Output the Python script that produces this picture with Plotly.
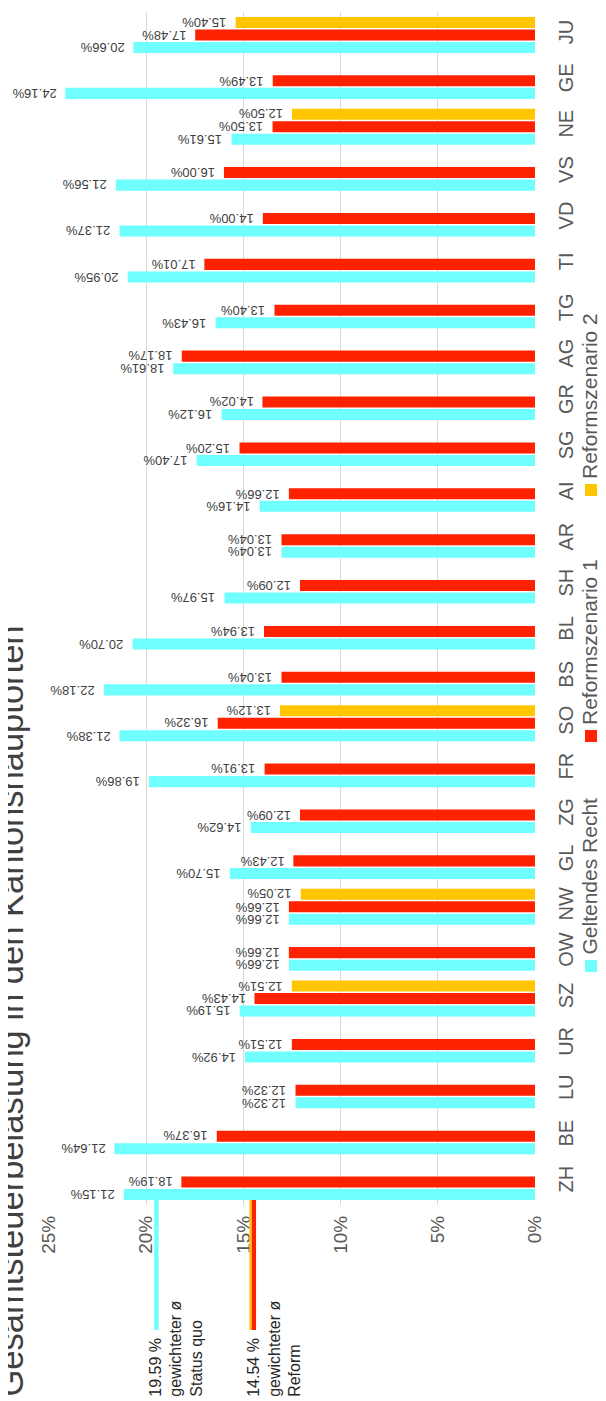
import plotly.graph_objects as go

cantons = ["ZH", "BE", "LU", "UR", "SZ", "OW", "NW", "GL", "ZG", "FR", "SO", "BS", "BL",
           "SH", "AR", "AI", "SG", "GR", "AG", "TG", "TI", "VD", "VS", "NE", "GE", "JU"]
geltendes_recht = [21.15, 21.64, 12.32, 14.92, 15.19, 12.66, 12.66, 15.70, 14.62, 19.86, 21.38, 22.18, 20.70,
                   15.97, 13.04, 14.16, 17.40, 16.12, 18.61, 16.43, 20.95, 21.37, 21.56, 15.61, 24.16, 20.66]
reform_1 = [18.19, 16.37, 12.32, 12.51, 14.43, 12.66, 12.66, 12.43, 12.09, 13.91, 16.32, 13.04, 13.94,
            12.09, 13.04, 12.66, 15.20, 14.02, 18.17, 13.40, 17.01, 14.00, 16.00, 13.50, 13.49, 17.48]
reform_2 = [None, None, None, None, 12.51, None, 12.05, None, None, None, 13.12, None, None,
            None, None, None, None, None, None, None, None, None, None, 12.50, None, 15.40]
avg_status_quo = 19.59
avg_reform = 14.54
x_ticks = [0, 5, 10, 15, 20, 25]
series_names = ["Geltendes Recht", "Reformszenario 1", "Reformszenario 2"]
title_text = "Gesamtsteuerbelastung in den Kantonshauptorten"

CYAN, RED, YEL = "#6FFFFF", "#FF2200", "#FFC600"
FONT = "Liberation Sans, Arial, sans-serif"
W, H = 606, 1401
OFF = 8  # page body margin
# plot area in page pixels: x 49..535, y 12..1205
ML = 49 - OFF
MR = W - (535 - OFF)
MT = 12 - OFF
MB = H - (1205 - OFF)
PW, PH = W - ML - MR, H - MT - MB
BARGAP, GROUPGAP = 0.18, 0.12


def px_x(px):
    return (px - OFF - ML) / PW


def px_y(py):
    return (H - MB - (py - OFF)) / PH


idx = list(range(len(cantons)))
fig = go.Figure()
series = [geltendes_recht, reform_1, reform_2]
colors = [CYAN, RED, YEL]
for name, vals, col in zip(series_names, series, colors):
    fig.add_trace(go.Bar(y=idx, x=vals, orientation="h", name=name,
                         marker=dict(color=col, line=dict(width=0)), showlegend=False))

slot = (1 - BARGAP) / 3
annotations = []
for k, vals in enumerate(series):
    off = (k - 1) * slot
    for i, v in enumerate(vals):
        if v is None:
            continue
        annotations.append(dict(x=v, y=i + off, xref="x", yref="y", text=f"{v:.2f}%",
                                showarrow=False, textangle=180, xanchor="right", yanchor="middle",
                                xshift=-7, font=dict(family=FONT, size=13, color="#404040")))

# title
annotations.append(dict(x=px_x(10), y=px_y(1399), xref="paper", yref="paper", text=title_text,
                        showarrow=False, textangle=-90, xanchor="center", yanchor="bottom",
                        font=dict(family=FONT, size=34.5, color="#404040")))

# average annotations
for val, lbl in [(avg_status_quo, "Status quo"), (avg_reform, "Reform")]:
    annotations.append(dict(x=val, y=px_y(1399), xref="x", yref="paper",
                            text=f"{val:.2f} %<br>gewichteter ø<br>{lbl}", align="left",
                            showarrow=False, textangle=-90, xanchor="left", yanchor="bottom",
                            xshift=-10, font=dict(family=FONT, size=16, color="#262626")))

# legend (rotated)
leg_bottoms = [972, 742, 496]
shapes = []
for name, col, yb in zip(series_names, colors, leg_bottoms):
    shapes.append(dict(type="rect", xref="paper", yref="paper", x0=px_x(585), x1=px_x(597),
                       y0=px_y(yb), y1=px_y(yb - 12), fillcolor=col, line=dict(width=0)))
    annotations.append(dict(x=px_x(589), y=px_y(yb - 15), xref="paper", yref="paper", text=name,
                            showarrow=False, textangle=-90, xanchor="center", yanchor="bottom",
                            font=dict(family=FONT, size=21, color="#595959")))

# average lines
shapes.append(dict(type="rect", xref="x", yref="paper", xsizemode="pixel", xanchor=avg_status_quo,
                   x0=0, x1=4.5, y0=px_y(1200), y1=px_y(1330), fillcolor=CYAN, line=dict(width=0)))
shapes.append(dict(type="rect", xref="x", yref="paper", xsizemode="pixel", xanchor=avg_reform,
                   x0=-3, x1=-0.6, y0=px_y(1200), y1=px_y(1330), fillcolor=YEL, line=dict(width=0)))
shapes.append(dict(type="rect", xref="x", yref="paper", xsizemode="pixel", xanchor=avg_reform,
                   x0=-0.6, x1=3.7, y0=px_y(1200), y1=px_y(1330), fillcolor=RED, line=dict(width=0)))

fig.update_layout(
    width=W, height=H, margin=dict(l=ML, r=MR, t=MT, b=MB, pad=0),
    paper_bgcolor="white", plot_bgcolor="white",
    barmode="group", bargap=BARGAP, bargroupgap=GROUPGAP,
    showlegend=False, annotations=annotations, shapes=shapes,
    xaxis=dict(range=[25, 0], tickvals=x_ticks, ticktext=[f"{t}%" for t in x_ticks],
               tickangle=-90, showgrid=True, gridcolor="#D9D9D9", gridwidth=1,
               zeroline=False, showline=False, ticks="", ticklabelstandoff=6,
               tickfont=dict(family=FONT, size=19, color="#595959")),
    yaxis=dict(range=[-0.5, len(cantons) - 0.5], tickvals=idx, ticktext=cantons, side="right",
               tickangle=-90, showgrid=False, zeroline=False, showline=False, ticks="",
               ticklabelstandoff=17, tickfont=dict(family=FONT, size=20, color="#595959")),
)

fig.write_html("out.html")
